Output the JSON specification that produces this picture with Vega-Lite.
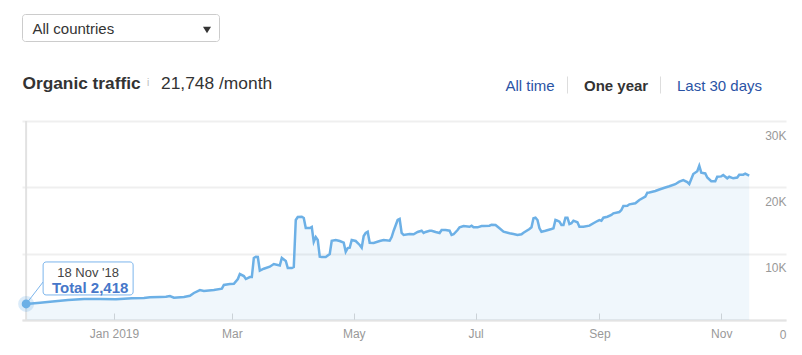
{
  "$schema": "https://vega.github.io/schema/vega-lite/v6.json",
  "width": 764,
  "height": 199,
  "autosize": {"type": "none"},
  "padding": {"left": 22, "top": 121, "right": 16, "bottom": 35},
  "background": "#ffffff",
  "config": {"view": {"stroke": null}, "font": "Liberation Sans"},
  "datasets": {
    "traffic": [
      {"date": "2018-11-18", "traffic": 2418},
      {"date": "2018-11-25", "traffic": 2600},
      {"date": "2018-11-30", "traffic": 2760},
      {"date": "2018-12-09", "traffic": 3010},
      {"date": "2018-12-17", "traffic": 3170},
      {"date": "2018-12-25", "traffic": 3170},
      {"date": "2019-01-02", "traffic": 3120},
      {"date": "2019-01-10", "traffic": 3270},
      {"date": "2019-01-16", "traffic": 3320},
      {"date": "2019-01-19", "traffic": 3420},
      {"date": "2019-01-24", "traffic": 3470},
      {"date": "2019-01-27", "traffic": 3510},
      {"date": "2019-01-29", "traffic": 3620},
      {"date": "2019-01-31", "traffic": 3360},
      {"date": "2019-02-05", "traffic": 3470},
      {"date": "2019-02-08", "traffic": 3660},
      {"date": "2019-02-10", "traffic": 4070},
      {"date": "2019-02-13", "traffic": 4520},
      {"date": "2019-02-15", "traffic": 4370},
      {"date": "2019-02-20", "traffic": 4520},
      {"date": "2019-02-24", "traffic": 4720},
      {"date": "2019-02-25", "traffic": 5280},
      {"date": "2019-02-28", "traffic": 5430},
      {"date": "2019-03-02", "traffic": 5470},
      {"date": "2019-03-04", "traffic": 6180},
      {"date": "2019-03-05", "traffic": 6930},
      {"date": "2019-03-07", "traffic": 6630},
      {"date": "2019-03-08", "traffic": 6180},
      {"date": "2019-03-10", "traffic": 6480},
      {"date": "2019-03-11", "traffic": 6480},
      {"date": "2019-03-12", "traffic": 9350},
      {"date": "2019-03-13", "traffic": 9540},
      {"date": "2019-03-14", "traffic": 9500},
      {"date": "2019-03-15", "traffic": 7430},
      {"date": "2019-03-17", "traffic": 7730},
      {"date": "2019-03-20", "traffic": 8040},
      {"date": "2019-03-22", "traffic": 8440},
      {"date": "2019-03-25", "traffic": 8210},
      {"date": "2019-03-26", "traffic": 9350},
      {"date": "2019-03-28", "traffic": 8890},
      {"date": "2019-03-29", "traffic": 7840},
      {"date": "2019-03-31", "traffic": 7840},
      {"date": "2019-04-01", "traffic": 7990},
      {"date": "2019-04-02", "traffic": 15075},
      {"date": "2019-04-03", "traffic": 15530},
      {"date": "2019-04-05", "traffic": 15570},
      {"date": "2019-04-06", "traffic": 15380},
      {"date": "2019-04-07", "traffic": 13870},
      {"date": "2019-04-09", "traffic": 13870},
      {"date": "2019-04-10", "traffic": 14020},
      {"date": "2019-04-11", "traffic": 11800},
      {"date": "2019-04-12", "traffic": 12510},
      {"date": "2019-04-13", "traffic": 12060},
      {"date": "2019-04-14", "traffic": 9540},
      {"date": "2019-04-15", "traffic": 9500},
      {"date": "2019-04-17", "traffic": 9500},
      {"date": "2019-04-19", "traffic": 9950},
      {"date": "2019-04-20", "traffic": 11950},
      {"date": "2019-04-22", "traffic": 12060},
      {"date": "2019-04-24", "traffic": 11910},
      {"date": "2019-04-26", "traffic": 11650},
      {"date": "2019-04-27", "traffic": 10300},
      {"date": "2019-04-28", "traffic": 10850},
      {"date": "2019-04-29", "traffic": 10900},
      {"date": "2019-04-30", "traffic": 12060},
      {"date": "2019-05-02", "traffic": 11910},
      {"date": "2019-05-04", "traffic": 11310},
      {"date": "2019-05-05", "traffic": 10900},
      {"date": "2019-05-06", "traffic": 12660},
      {"date": "2019-05-07", "traffic": 13120},
      {"date": "2019-05-08", "traffic": 13310},
      {"date": "2019-05-09", "traffic": 11650},
      {"date": "2019-05-11", "traffic": 11610},
      {"date": "2019-05-14", "traffic": 11910},
      {"date": "2019-05-16", "traffic": 12060},
      {"date": "2019-05-19", "traffic": 11950},
      {"date": "2019-05-20", "traffic": 12510},
      {"date": "2019-05-21", "traffic": 13460},
      {"date": "2019-05-23", "traffic": 15075},
      {"date": "2019-05-24", "traffic": 15230},
      {"date": "2019-05-25", "traffic": 13120},
      {"date": "2019-05-26", "traffic": 12810},
      {"date": "2019-05-29", "traffic": 12960},
      {"date": "2019-05-31", "traffic": 12920},
      {"date": "2019-06-02", "traffic": 13270},
      {"date": "2019-06-04", "traffic": 13460},
      {"date": "2019-06-05", "traffic": 13120},
      {"date": "2019-06-06", "traffic": 13270},
      {"date": "2019-06-08", "traffic": 13460},
      {"date": "2019-06-09", "traffic": 13460},
      {"date": "2019-06-11", "traffic": 13270},
      {"date": "2019-06-13", "traffic": 13120},
      {"date": "2019-06-14", "traffic": 13570},
      {"date": "2019-06-16", "traffic": 13570},
      {"date": "2019-06-18", "traffic": 13460},
      {"date": "2019-06-19", "traffic": 12810},
      {"date": "2019-06-20", "traffic": 12920},
      {"date": "2019-06-22", "traffic": 13570},
      {"date": "2019-06-23", "traffic": 13970},
      {"date": "2019-06-25", "traffic": 14170},
      {"date": "2019-06-28", "traffic": 14060},
      {"date": "2019-06-29", "traffic": 14220},
      {"date": "2019-06-30", "traffic": 13970},
      {"date": "2019-07-02", "traffic": 13970},
      {"date": "2019-07-04", "traffic": 14170},
      {"date": "2019-07-05", "traffic": 14170},
      {"date": "2019-07-08", "traffic": 14220},
      {"date": "2019-07-09", "traffic": 14370},
      {"date": "2019-07-11", "traffic": 14320},
      {"date": "2019-07-13", "traffic": 13820},
      {"date": "2019-07-15", "traffic": 13310},
      {"date": "2019-07-18", "traffic": 13070},
      {"date": "2019-07-20", "traffic": 12960},
      {"date": "2019-07-22", "traffic": 12810},
      {"date": "2019-07-24", "traffic": 12920},
      {"date": "2019-07-25", "traffic": 13160},
      {"date": "2019-07-28", "traffic": 13720},
      {"date": "2019-07-29", "traffic": 13970},
      {"date": "2019-07-30", "traffic": 15330},
      {"date": "2019-07-31", "traffic": 15420},
      {"date": "2019-08-01", "traffic": 15075},
      {"date": "2019-08-02", "traffic": 13820},
      {"date": "2019-08-03", "traffic": 13310},
      {"date": "2019-08-05", "traffic": 13460},
      {"date": "2019-08-08", "traffic": 13720},
      {"date": "2019-08-09", "traffic": 13820},
      {"date": "2019-08-10", "traffic": 15075},
      {"date": "2019-08-11", "traffic": 14970},
      {"date": "2019-08-12", "traffic": 14820},
      {"date": "2019-08-13", "traffic": 14320},
      {"date": "2019-08-14", "traffic": 14320},
      {"date": "2019-08-15", "traffic": 15420},
      {"date": "2019-08-16", "traffic": 15420},
      {"date": "2019-08-17", "traffic": 14470},
      {"date": "2019-08-18", "traffic": 14580},
      {"date": "2019-08-19", "traffic": 14970},
      {"date": "2019-08-21", "traffic": 14730},
      {"date": "2019-08-22", "traffic": 14060},
      {"date": "2019-08-24", "traffic": 14060},
      {"date": "2019-08-27", "traffic": 14220},
      {"date": "2019-08-29", "traffic": 14580},
      {"date": "2019-08-31", "traffic": 14920},
      {"date": "2019-09-01", "traffic": 15075},
      {"date": "2019-09-02", "traffic": 14970},
      {"date": "2019-09-03", "traffic": 15420},
      {"date": "2019-09-05", "traffic": 15570},
      {"date": "2019-09-07", "traffic": 15830},
      {"date": "2019-09-08", "traffic": 16080},
      {"date": "2019-09-11", "traffic": 16280},
      {"date": "2019-09-12", "traffic": 16580},
      {"date": "2019-09-13", "traffic": 17190},
      {"date": "2019-09-15", "traffic": 17230},
      {"date": "2019-09-16", "traffic": 17440},
      {"date": "2019-09-19", "traffic": 17590},
      {"date": "2019-09-21", "traffic": 18090},
      {"date": "2019-09-24", "traffic": 18620},
      {"date": "2019-09-25", "traffic": 19190},
      {"date": "2019-09-26", "traffic": 19220},
      {"date": "2019-09-29", "traffic": 19450},
      {"date": "2019-10-01", "traffic": 19670},
      {"date": "2019-10-04", "traffic": 19970},
      {"date": "2019-10-06", "traffic": 20160},
      {"date": "2019-10-09", "traffic": 20470},
      {"date": "2019-10-11", "traffic": 20850},
      {"date": "2019-10-13", "traffic": 21100},
      {"date": "2019-10-15", "traffic": 20800},
      {"date": "2019-10-16", "traffic": 20500},
      {"date": "2019-10-18", "traffic": 22010},
      {"date": "2019-10-20", "traffic": 22420},
      {"date": "2019-10-21", "traffic": 23250},
      {"date": "2019-10-22", "traffic": 22210},
      {"date": "2019-10-24", "traffic": 22090},
      {"date": "2019-10-25", "traffic": 21480},
      {"date": "2019-10-27", "traffic": 20920},
      {"date": "2019-10-29", "traffic": 20910},
      {"date": "2019-10-30", "traffic": 21600},
      {"date": "2019-11-01", "traffic": 21650},
      {"date": "2019-11-02", "traffic": 21860},
      {"date": "2019-11-04", "traffic": 21360},
      {"date": "2019-11-05", "traffic": 21600},
      {"date": "2019-11-07", "traffic": 21360},
      {"date": "2019-11-09", "traffic": 21480},
      {"date": "2019-11-10", "traffic": 21900},
      {"date": "2019-11-12", "traffic": 21900},
      {"date": "2019-11-13", "traffic": 22050},
      {"date": "2019-11-15", "traffic": 21748}
    ]
  },
  "layer": [
    {
      "data": {"name": "traffic"},
      "mark": {"type": "area", "color": "#6cb0e6", "opacity": 0.1},
      "encoding": {
        "x": {
          "field": "date",
          "type": "temporal",
          "scale": {
            "type": "utc",
            "nice": false,
            "domain": [
              {"year": 2018, "month": 11, "date": 15, "hours": 22, "minutes": 30, "utc": true},
              {"year": 2019, "month": 12, "date": 3, "hours": 10, "utc": true}
            ]
          },
          "axis": {
            "title": null,
            "grid": false,
            "values": [
              {"year": 2019, "month": 1, "date": 1, "utc": true},
              {"year": 2019, "month": 3, "date": 1, "utc": true},
              {"year": 2019, "month": 5, "date": 1, "utc": true},
              {"year": 2019, "month": 7, "date": 1, "utc": true},
              {"year": 2019, "month": 9, "date": 1, "utc": true},
              {"year": 2019, "month": 11, "date": 1, "utc": true}
            ],
            "labelExpr": "utcmonth(datum.value) === 0 ? utcFormat(datum.value, '%b %Y') : utcFormat(datum.value, '%b')",
            "domain": true,
            "domainColor": "#e3e3e3",
            "domainWidth": 2,
            "ticks": true,
            "tickSize": -7,
            "tickColor": "#d6d6d6",
            "tickWidth": 1,
            "labelPadding": 15,
            "labelFont": "Liberation Sans",
            "labelFontSize": 12,
            "labelColor": "#999999",
            "labelFlush": false,
            "labelOverlap": false
          }
        },
        "y": {
          "field": "traffic",
          "type": "quantitative",
          "scale": {"domain": [0, 30000], "nice": false},
          "axis": {
            "orient": "right",
            "title": null,
            "values": [0, 10000, 20000, 30000],
            "labelExpr": "datum.value === 0 ? '0' : (datum.value / 1000) + 'K'",
            "grid": true,
            "gridColor": "#efefef",
            "gridWidth": 2,
            "domain": false,
            "ticks": false,
            "tickSize": 0,
            "labelAlign": "right",
            "labelBaseline": "alphabetic",
            "labelPadding": 0,
            "labelOffset": 18,
            "labelFont": "Liberation Sans",
            "labelFontSize": 12,
            "labelColor": "#999999",
            "labelOverlap": false
          }
        }
      }
    },
    {
      "data": {"name": "traffic"},
      "transform": [{"filter": "datum.traffic === 2418"}],
      "mark": {"type": "rule", "color": "#e2e2e2", "strokeWidth": 2},
      "encoding": {"x": {"field": "date", "type": "temporal"}}
    },
    {
      "data": {"name": "traffic"},
      "mark": {"type": "line", "color": "#6cb0e6", "strokeWidth": 2.5},
      "encoding": {
        "x": {"field": "date", "type": "temporal"},
        "y": {"field": "traffic", "type": "quantitative"}
      }
    },
    {
      "data": {"name": "traffic"},
      "transform": [{"filter": "datum.traffic === 2418"}],
      "mark": {"type": "rule", "color": "#7cb5ec", "strokeWidth": 1, "x2Offset": 17, "y2Offset": -22},
      "encoding": {
        "x": {"field": "date", "type": "temporal"},
        "y": {"field": "traffic", "type": "quantitative"},
        "x2": {"field": "date"},
        "y2": {"field": "traffic"}
      }
    },
    {
      "data": {"name": "traffic"},
      "transform": [{"filter": "datum.traffic === 2418"}],
      "mark": {"type": "circle", "size": 254, "color": "#6cb0e6", "opacity": 0.25},
      "encoding": {
        "x": {"field": "date", "type": "temporal"},
        "y": {"field": "traffic", "type": "quantitative"}
      }
    },
    {
      "data": {"name": "traffic"},
      "transform": [{"filter": "datum.traffic === 2418"}],
      "mark": {"type": "circle", "size": 79, "color": "#6cb0e6", "opacity": 1},
      "encoding": {
        "x": {"field": "date", "type": "temporal"},
        "y": {"field": "traffic", "type": "quantitative"}
      }
    },
    {
      "data": {"name": "traffic"},
      "transform": [{"filter": "datum.traffic === 2418"}],
      "mark": {"type": "rect", "fill": "#ffffff", "fillOpacity": 0.85, "stroke": "#7cb5ec", "strokeWidth": 1, "cornerRadius": 3, "xOffset": 17, "x2Offset": 107, "yOffset": -42, "y2Offset": -9},
      "encoding": {
        "x": {"field": "date", "type": "temporal"},
        "x2": {"field": "date"},
        "y": {"field": "traffic", "type": "quantitative"},
        "y2": {"field": "traffic"}
      }
    },
    {
      "data": {"name": "traffic"},
      "transform": [
        {"filter": "datum.traffic === 2418"},
        {"calculate": "utcFormat(datum.date, \"%d %b '%y\")", "as": "day"}
      ],
      "mark": {"type": "text", "align": "center", "baseline": "alphabetic", "dx": 62, "dy": -27, "fontSize": 13, "color": "#444444", "font": "Liberation Sans"},
      "encoding": {
        "x": {"field": "date", "type": "temporal"},
        "y": {"field": "traffic", "type": "quantitative"},
        "text": {"field": "day"}
      }
    },
    {
      "data": {"name": "traffic"},
      "transform": [
        {"filter": "datum.traffic === 2418"},
        {"calculate": "'Total ' + format(datum.traffic, ',')", "as": "total"}
      ],
      "mark": {"type": "text", "align": "center", "baseline": "alphabetic", "dx": 64, "dy": -11, "fontSize": 15, "fontWeight": "bold", "color": "#4677c9", "font": "Liberation Sans"},
      "encoding": {
        "x": {"field": "date", "type": "temporal"},
        "y": {"field": "traffic", "type": "quantitative"},
        "text": {"field": "total"}
      }
    },
    {
      "data": {"values": [{"label": "All countries"}]},
      "mark": {"type": "rect", "fill": "#ffffff", "stroke": "#cccccc", "strokeWidth": 1, "cornerRadius": 3},
      "encoding": {
        "x": {"value": 0.5}, "x2": {"value": 197.5},
        "y": {"value": -106.5}, "y2": {"value": -79.5}
      }
    },
    {
      "data": {"values": [{"label": "All countries"}]},
      "mark": {"type": "text", "align": "left", "baseline": "alphabetic", "fontSize": 15, "color": "#333333", "font": "Liberation Sans"},
      "encoding": {"x": {"value": 10.5}, "y": {"value": -87}, "text": {"field": "label"}}
    },
    {
      "data": {"values": [{"label": "▼"}]},
      "mark": {"type": "point", "shape": "M-1,-0.8L1,-0.8L0,0.8Z", "size": 64, "filled": true, "color": "#333333", "opacity": 1},
      "encoding": {"x": {"value": 185}, "y": {"value": -91}}
    },
    {
      "data": {"values": [{"label": "Organic traffic"}]},
      "mark": {"type": "text", "align": "left", "baseline": "alphabetic", "fontSize": 17.3, "fontWeight": "bold", "color": "#333333", "font": "Liberation Sans"},
      "encoding": {"x": {"value": 0.5}, "y": {"value": -32.5}, "text": {"field": "label"}}
    },
    {
      "data": {"values": [{"label": "i"}]},
      "mark": {"type": "text", "align": "center", "baseline": "alphabetic", "fontSize": 10, "color": "#bbbbbb", "font": "Liberation Sans"},
      "encoding": {"x": {"value": 126}, "y": {"value": -35}, "text": {"field": "label"}}
    },
    {
      "data": {"values": [{"label": "21,748 /month"}]},
      "mark": {"type": "text", "align": "left", "baseline": "alphabetic", "fontSize": 17.4, "color": "#333333", "font": "Liberation Sans"},
      "encoding": {"x": {"value": 139}, "y": {"value": -32.5}, "text": {"field": "label"}}
    },
    {
      "data": {"values": [{"label": "All time"}]},
      "mark": {"type": "text", "align": "left", "baseline": "alphabetic", "fontSize": 15, "color": "#2a53a5", "font": "Liberation Sans"},
      "encoding": {"x": {"value": 483.5}, "y": {"value": -30.3}, "text": {"field": "label"}}
    },
    {
      "data": {"values": [{"label": "|"}]},
      "mark": {"type": "rule", "color": "#dddddd", "strokeWidth": 1},
      "encoding": {"x": {"value": 545.5}, "y": {"value": -44.5}, "y2": {"value": -27.5}}
    },
    {
      "data": {"values": [{"label": "One year"}]},
      "mark": {"type": "text", "align": "left", "baseline": "alphabetic", "fontSize": 15, "fontWeight": "bold", "color": "#333333", "font": "Liberation Sans"},
      "encoding": {"x": {"value": 562}, "y": {"value": -30.3}, "text": {"field": "label"}}
    },
    {
      "data": {"values": [{"label": "|"}]},
      "mark": {"type": "rule", "color": "#dddddd", "strokeWidth": 1},
      "encoding": {"x": {"value": 638.5}, "y": {"value": -44.5}, "y2": {"value": -27.5}}
    },
    {
      "data": {"values": [{"label": "Last 30 days"}]},
      "mark": {"type": "text", "align": "left", "baseline": "alphabetic", "fontSize": 15, "color": "#2a53a5", "font": "Liberation Sans"},
      "encoding": {"x": {"value": 655}, "y": {"value": -30.3}, "text": {"field": "label"}}
    }
  ]
}
